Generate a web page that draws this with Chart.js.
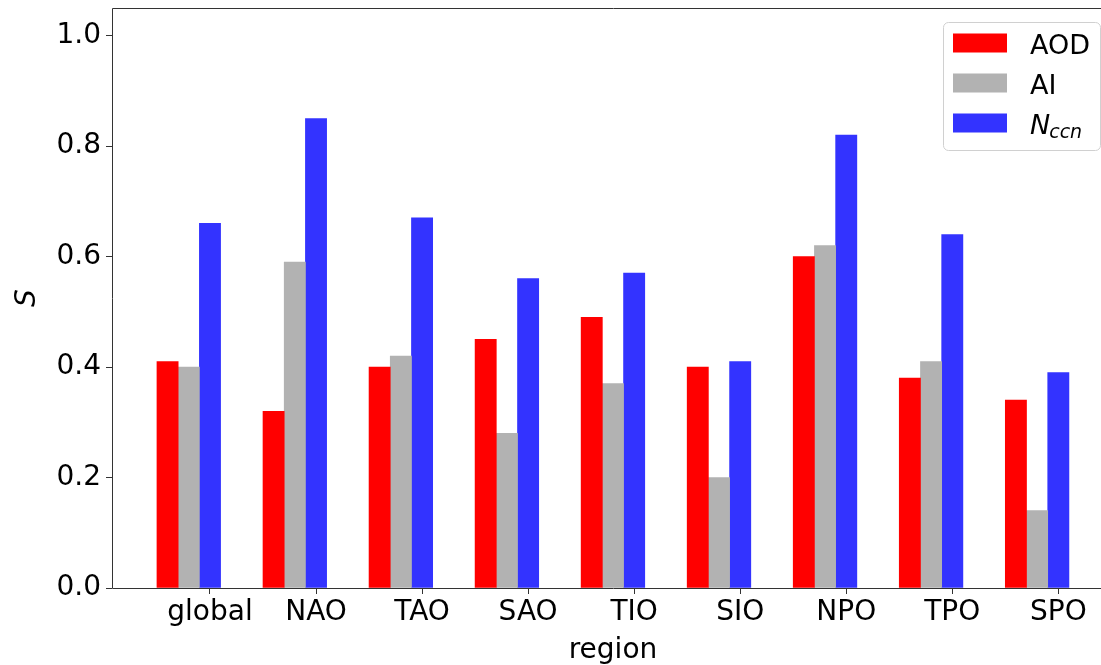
<!DOCTYPE html>
<html>
<head>
<meta charset="utf-8">
<script src="https://cdn.jsdelivr.net/npm/chart.js@4.4.0/dist/chart.umd.min.js"></script>
<style>
  html, body { margin: 0; padding: 0; background: #fff; overflow: hidden; }
  #wrap { width: 1101px; height: 665px; overflow: hidden; }
</style>
</head>
<body>
<div id="wrap"><canvas id="myChart" width="1120" height="665"></canvas></div>
<script>

// region names and the three series
const regions = ['global', 'NAO', 'TAO', 'SAO', 'TIO', 'SIO', 'NPO', 'TPO', 'SPO']
const aod  = [0.41, 0.32, 0.40, 0.45, 0.49, 0.40, 0.60, 0.38, 0.34]
const ai   = [0.40, 0.59, 0.42, 0.28, 0.37, 0.20, 0.62, 0.41, 0.14]
const nccn = [0.66, 0.85, 0.67, 0.56, 0.57, 0.41, 0.82, 0.64, 0.39]
const yTicks = [0.0, 0.2, 0.4, 0.6, 0.8, 1.0]
const seriesNames = ['AOD', 'AI', 'N_ccn']
const seriesColors = ['#ff0000', '#b2b2b2', '#3333ff']

// bars sit left of the tick like in the matplotlib script (x - 2w, x - w, x)
const barW = 0.2
const offsets = [-2 * barW, -barW, 0]

Chart.defaults.font.family = '"DejaVu Sans"'
Chart.defaults.color = '#000'

const seriesData = [aod, ai, nccn]
let dsets = seriesData.map((vals, k) => ({
  label: seriesNames[k],
  data: vals.map((v, i) => ({ x: i + offsets[k], y: v })),
  backgroundColor: seriesColors[k],
  borderWidth: 0,
  grouped: false,
  barPercentage: 1,
  categoryPercentage: 1
}))

// spines (left, bottom, top, right)
const spines = {
  id: 'spines',
  afterDatasetsDraw(chart) {
    const { ctx, chartArea: a } = chart
    ctx.save()
    ctx.strokeStyle = '#333'
    ctx.lineWidth = 1
    ctx.beginPath()
    ctx.moveTo(a.left + 0.5, a.top + 0.5)
    ctx.lineTo(a.left + 0.5, a.bottom + 0.5)
    ctx.lineTo(a.right + 0.5, a.bottom + 0.5)
    ctx.lineTo(a.right + 0.5, a.top + 0.5)
    ctx.closePath()
    ctx.stroke()
    ctx.restore()
  }
}

// matplotlib-style legend box, upper right
const mplLegend = {
  id: 'mplLegend',
  afterDraw(chart) {
    const { ctx, chartArea: a } = chart
    const fs = 27
    const w = 157, h = 128
    const x0 = a.right - 14 - w
    const y0 = a.top + 14
    ctx.save()
    ctx.beginPath()
    ctx.roundRect(x0 + 0.5, y0 + 0.5, w, h, 5)
    ctx.fillStyle = 'rgba(255,255,255,0.8)'
    ctx.fill()
    ctx.strokeStyle = '#d0d0d0'
    ctx.lineWidth = 1
    ctx.stroke()

    seriesNames.forEach((name, k) => {
      const cy = y0 + 21 + k * 40
      ctx.fillStyle = seriesColors[k]
      ctx.fillRect(x0 + 10, cy - 9.5, 54, 19)
      const tx = x0 + 87
      const base = cy + 10.5
      ctx.fillStyle = '#000'
      ctx.textBaseline = 'alphabetic'
      ctx.textAlign = 'left'
      if (name.includes('_')) {
        const [main, sub] = name.split('_')
        ctx.font = 'italic ' + fs + 'px "DejaVu Sans"'
        ctx.fillText(main, tx, base)
        const mw = ctx.measureText(main).width
        ctx.font = 'italic 19px "DejaVu Sans"'
        ctx.fillText(sub, tx + mw - 1, base + 4)
      } else {
        ctx.font = fs + 'px "DejaVu Sans"'
        ctx.fillText(name, tx, base)
      }
    })
    ctx.restore()
  }
}

new Chart(
  document.getElementById('myChart'),
  {
    type: 'bar',
    data: {
      datasets: dsets
    },
    plugins: [spines, mplLegend],
    options: {
      responsive: false,
      animation: false,
      layout: {
        padding: { left: 0, right: 6, top: 8, bottom: 0 }
      },
      plugins: {
        legend: { display: false },
        tooltip: { enabled: false }
      },
      scales: {
        x: {
          type: 'linear',
          offset: false,
          bounds: 'data',
          min: -0.924,
          max: 8.525,
          afterBuildTicks: (scale) => {
            scale.ticks = regions.map((r, i) => ({ value: i }))
          },
          afterFit: (scale) => {
            scale.height = 77
            scale.paddingLeft = 0
            scale.paddingRight = 0
          },
          ticks: {
            autoSkip: false,
            maxRotation: 0,
            padding: 2,
            font: { size: 28 },
            callback: (value, index) => regions[index]
          },
          grid: {
            offset: false,
            drawOnChartArea: false,
            drawTicks: true,
            tickLength: 6,
            color: '#333'
          },
          border: { display: false },
          title: {
            display: true,
            text: 'region',
            font: { size: 28, lineHeight: 1 },
            padding: { top: 3, bottom: 0 }
          }
        },
        y: {
          type: 'linear',
          min: 0,
          max: 1.05,
          afterBuildTicks: (scale) => {
            scale.ticks = yTicks.map(v => ({ value: v }))
          },
          afterFit: (scale) => {
            scale.width = 112
            scale.paddingTop = 0
            scale.paddingBottom = 0
          },
          ticks: {
            padding: 5,
            font: { size: 28 },
            callback: (value) => value.toFixed(1)
          },
          grid: {
            drawOnChartArea: false,
            drawTicks: true,
            tickLength: 6,
            color: '#333'
          },
          border: { display: false },
          title: {
            display: true,
            text: 'S',
            font: { size: 28, style: 'italic', lineHeight: 1 },
            padding: { top: 14, bottom: 0 }
          }
        }
      }
    }
  }
)

</script>
</body>
</html>
